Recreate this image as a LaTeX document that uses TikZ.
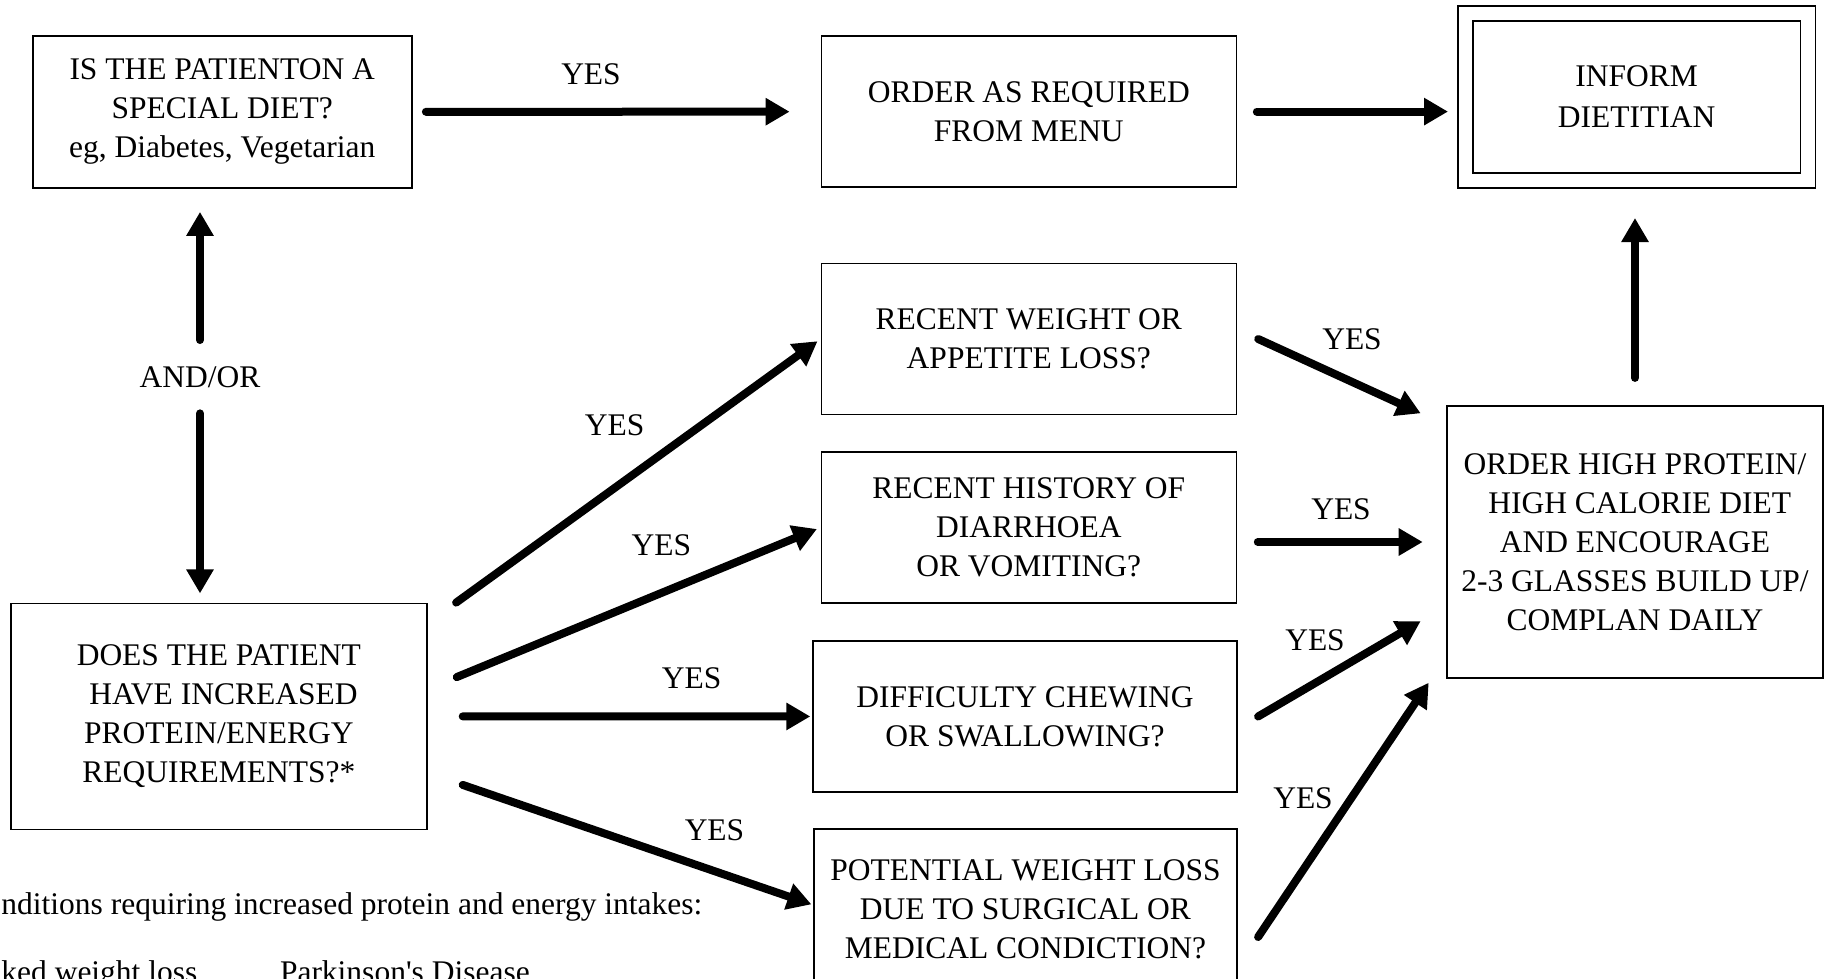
\documentclass[tikz,border=0pt]{standalone}
\usepackage{fontspec}
\setmainfont{Liberation Serif}
\usepackage{tikz}
\usetikzlibrary{arrows.meta}

\begin{document}
\begin{tikzpicture}[x=0.5pt,y=-0.5pt,
        every node/.style={font=\fontsize{15.75pt}{19.5pt}\selectfont},
        box/.style={draw,line width=0.7pt,align=center,inner sep=0pt},
        lbl/.style={inner sep=0pt},
        arr/.style={line width=4pt,line cap=round,-{Triangle[width=13pt,length=12pt]}}]
        \useasboundingbox (0,0) rectangle (1832,979);
        \clip (0,0) rectangle (1832,979);

        \node[box,line width=1pt,minimum width=189.5pt,minimum height=76pt] (diet) at (222.2,111.9) {IS THE PATIENTON A\\SPECIAL DIET?\\eg, Diabetes, Vegetarian};
        \node[box,minimum width=207.5pt,minimum height=75.5pt] (menu) at (1028.8,111.6) {ORDER AS REQUIRED\\FROM MENU};
        \node[box,line width=0.75pt,double,double distance=6.75pt,minimum width=171.25pt,minimum height=83.4pt,font=\fontsize{15.75pt}{20.5pt}\selectfont] (dietitian) at (1636.6,96.9) {INFORM\\DIETITIAN};
        \node[box,minimum width=207.5pt,minimum height=75.5pt] (weight) at (1028.8,339) {RECENT WEIGHT OR\\APPETITE LOSS?};
        \node[box,minimum width=207.5pt,minimum height=75.5pt] (history) at (1028.8,527.5) {RECENT HISTORY OF\\DIARRHOEA\\OR VOMITING?};
        \node[box,minimum width=212pt,minimum height=75.5pt] (chewing) at (1025,716.5) {DIFFICULTY CHEWING\\OR SWALLOWING?};
        \node[box,minimum width=211.5pt,minimum height=80pt] (surgery) at (1025.5,909) {POTENTIAL WEIGHT LOSS\\DUE TO SURGICAL OR\\MEDICAL CONDICTION?};
        \node[box,minimum width=208pt,minimum height=113pt] (needs) at (218.8,716.3) {DOES THE PATIENT\\\hspace*{0.3em}HAVE INCREASED\\PROTEIN/ENERGY\\REQUIREMENTS?*};
        \node[box,minimum width=188pt,minimum height=136pt] (proto) at (1635,542) {ORDER HIGH PROTEIN/\\\hspace*{0.3em}HIGH CALORIE DIET\\AND ENCOURAGE\\2-3 GLASSES BUILD UP/\\COMPLAN DAILY};

        \node[lbl] (andor) at (200,377) {AND/OR};
        \node[lbl] (yes0) at (591,74) {YES};
        \node[lbl] (yes1) at (614.6,425.3) {YES};
        \node[lbl] (yes2) at (661.3,545.6) {YES};
        \node[lbl] (yes3) at (691.7,678) {YES};
        \node[lbl] (yes4) at (714.5,830) {YES};
        \node[lbl] (yesA) at (1352,339.5) {YES};
        \node[lbl] (yesB) at (1341,509) {YES};
        \node[lbl] (yesC) at (1315,640.5) {YES};
        \node[lbl] (yesD) at (1303,798) {YES};

        \node[lbl,anchor=base west] (note) at (1,914) {nditions requiring increased protein and energy intakes:};
        \node[lbl,anchor=base west] (cond1) at (1,982) {ked weight loss};
        \node[lbl,anchor=base west] (cond2) at (279.6,982) {Parkinson\textquotesingle s Disease};

        \draw[arr,shorten <=6.6pt,shorten >=15.5pt] (diet) -- (menu);
        \draw[arr,shorten <=9.9pt,shorten >=8.3pt] (menu.east) -- (menu.east -| dietitian.west);
        \draw[arr,shorten <=13.7pt,shorten >=18.5pt] (proto.north) -- (proto.north |- dietitian.south);

        \draw[arr,shorten <=13pt,shorten >=11.5pt] (andor.north) -- (andor.north |- diet.south);
        \draw[arr,shorten <=12.7pt,shorten >=4.6pt] (andor.south) -- (andor.south |- needs.north);

        \draw[arr,shorten >=1.9pt] ([xshift=14.3pt]needs.north east) -- (weight.west);
        \draw[arr,shorten >=2pt] ([xshift=14.6pt,yshift=19.6pt]needs.east) -- (history.west);
        \draw[arr,shorten <=17.6pt,shorten >=1pt] (needs) -- (chewing);
        \draw[arr,shorten >=1pt] ([xshift=17.6pt,yshift=-34.3pt]needs.east) -- ([yshift=2pt]surgery.west);

        \draw[arr] ([xshift=10.6pt]weight.east) -- ([xshift=-12.8pt,yshift=-4pt]proto.north west);
        \draw[arr,shorten <=10.4pt,shorten >=11.8pt] (history.east |- proto.west) -- (proto.west);
        \draw[arr] ([xshift=10.2pt]chewing.east) -- ([xshift=-12.8pt,yshift=28.8pt]proto.south west);
        \draw[arr] ([xshift=10.2pt,yshift=-14pt]surgery.east) -- ([xshift=-8.8pt,yshift=-2pt]proto.south west);
    \end{tikzpicture}
\end{document}
